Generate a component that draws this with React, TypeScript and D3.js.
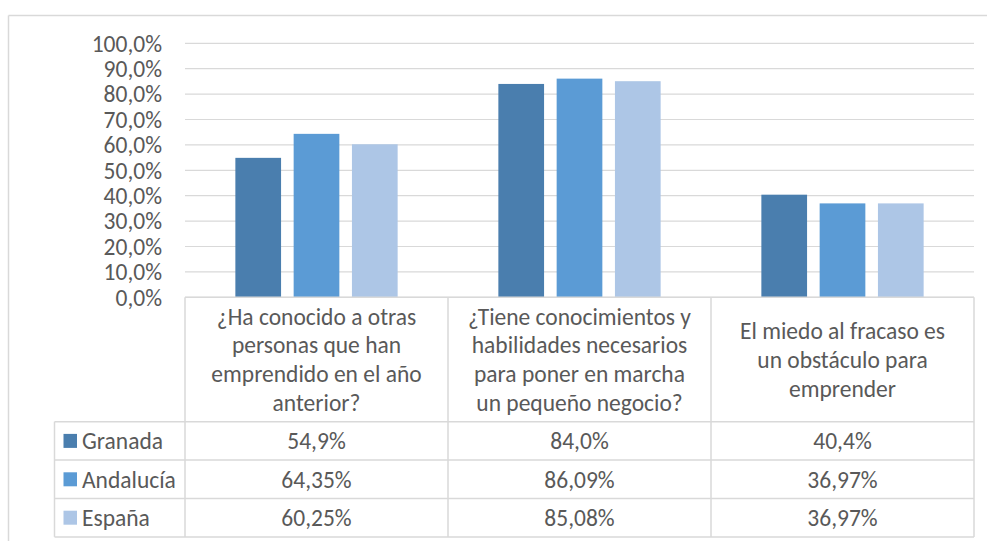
import React from "react";
import * as d3 from "d3";

const categories: string[][] = [
  ["¿Ha conocido a otras", "personas que han", "emprendido en el año", "anterior?"],
  ["¿Tiene conocimientos y", "habilidades necesarios", "para poner en marcha", "un pequeño negocio?"],
  ["El miedo al fracaso es", "un obstáculo para", "emprender"],
];
const seriesNames = ["Granada", "Andalucía", "España"];
const granada = [54.9, 84.0, 40.4];
const andalucia = [64.35, 86.09, 36.97];
const espana = [60.25, 85.08, 36.97];
const seriesDecimals = [1, 2, 2];
const seriesColors = ["#4a7eae", "#5b9bd5", "#adc6e6"];
const yTicks = [0, 10, 20, 30, 40, 50, 60, 70, 80, 90, 100];

const W = 987;
const H = 541;
const plotLeft = 185;
const plotRight = 974;
const plotTop = 43.3;
const plotBottom = 297.3;
const headerBottom = 421.7;
const rowH = 38.4;
const legendLeft = 54.5;
const textColor = "#595959";
const lineColor = "#d9d9d9";
const fontFamily = "Carlito, 'Open Sans', sans-serif";
const fontSize = 23.5;

const es = d3.formatLocale({ decimal: ",", thousands: ".", grouping: [3], currency: ["", "€"] });

export default function App() {
  const seriesValues = [granada, andalucia, espana];
  const x = d3.scaleBand<number>().domain(d3.range(categories.length)).range([plotLeft, plotRight]).padding(0);
  const y = d3.scaleLinear().domain([0, 100]).range([plotBottom, plotTop]);
  const innerW = x.bandwidth() * 0.617;
  const xi = d3
    .scaleBand<number>()
    .domain(d3.range(seriesNames.length))
    .range([-innerW / 2, innerW / 2])
    .paddingInner(0.216)
    .paddingOuter(0);
  const tickFmt = es.format(".1f");
  const rowsBottom = headerBottom + rowH * seriesNames.length;
  const lineSpacing = 28.8;

  return (
    <svg
      width={W}
      height={H}
      style={{ position: "absolute", left: 0, top: 0, background: "#fff" }}
      fontFamily={fontFamily}
    >
      <rect x={0} y={0} width={W} height={H} fill="#fff" />
      {/* outer chart border */}
      <line x1={8.5} y1={15.5} x2={W} y2={15.5} stroke={lineColor} strokeWidth={1.5} />
      <line x1={8.5} y1={15.5} x2={8.5} y2={H} stroke={lineColor} strokeWidth={1.5} />

      {/* gridlines */}
      {yTicks.map((t) => (
        <line key={"g" + t} x1={plotLeft} x2={plotRight} y1={y(t)} y2={y(t)} stroke={lineColor} strokeWidth={1.2} />
      ))}
      {/* y tick labels */}
      {yTicks.map((t) => (
        <text
          key={"t" + t}
          x={162}
          y={y(t)}
          dy="0.35em"
          textAnchor="end"
          fontSize={fontSize}
          fill={textColor}
        >
          {tickFmt(t) + "%"}
        </text>
      ))}

      {/* bars */}
      {seriesValues.map((vals, si) =>
        vals.map((v, ci) => {
          const cx = (x(ci) as number) + x.bandwidth() / 2;
          return (
            <rect
              key={`b${si}-${ci}`}
              x={cx + (xi(si) as number)}
              y={y(v)}
              width={xi.bandwidth()}
              height={plotBottom - y(v)}
              fill={seriesColors[si]}
            />
          );
        })
      )}

      {/* data table lines */}
      <line x1={plotLeft} x2={plotRight} y1={plotBottom} y2={plotBottom} stroke={lineColor} strokeWidth={1.5} />
      {d3.range(seriesNames.length + 1).map((i) => (
        <line
          key={"h" + i}
          x1={legendLeft}
          x2={plotRight}
          y1={headerBottom + rowH * i}
          y2={headerBottom + rowH * i}
          stroke={lineColor}
          strokeWidth={1.5}
        />
      ))}
      <line x1={legendLeft} x2={legendLeft} y1={headerBottom} y2={rowsBottom} stroke={lineColor} strokeWidth={1.5} />
      {d3.range(categories.length + 1).map((i) => {
        const xx = i < categories.length ? (x(i) as number) : plotRight;
        return (
          <line key={"v" + i} x1={xx} x2={xx} y1={plotBottom} y2={rowsBottom} stroke={lineColor} strokeWidth={1.5} />
        );
      })}

      {/* header category labels */}
      {categories.map((lines, ci) => {
        const cx = (x(ci) as number) + x.bandwidth() / 2;
        const cy = (plotBottom + headerBottom) / 2;
        return (
          <text key={"c" + ci} textAnchor="middle" fontSize={fontSize} fill={textColor}>
            {lines.map((ln, li) => (
              <tspan key={li} x={cx} y={cy + (li - (lines.length - 1) / 2) * lineSpacing} dy="0.35em">
                {ln}
              </tspan>
            ))}
          </text>
        );
      })}

      {/* legend + values */}
      {seriesNames.map((name, si) => {
        const cy = headerBottom + rowH * si + rowH / 2;
        const fmt = es.format("." + seriesDecimals[si] + "f");
        return (
          <g key={"r" + si}>
            <rect x={63.5} y={cy - 7} width={13.5} height={14} fill={seriesColors[si]} />
            <text x={82} y={cy} dy="0.35em" fontSize={fontSize} fill={textColor}>
              {name}
            </text>
            {seriesValues[si].map((v, ci) => (
              <text
                key={ci}
                x={(x(ci) as number) + x.bandwidth() / 2}
                y={cy}
                dy="0.35em"
                textAnchor="middle"
                fontSize={fontSize}
                fill={textColor}
              >
                {fmt(v) + "%"}
              </text>
            ))}
          </g>
        );
      })}
    </svg>
  );
}
